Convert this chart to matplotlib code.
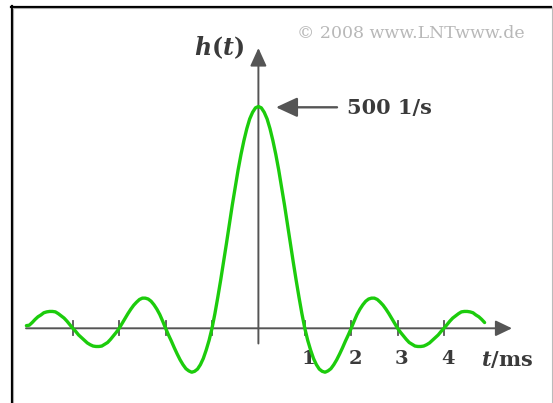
import matplotlib
matplotlib.use("Agg")
import matplotlib.pyplot as plt
from matplotlib.lines import Line2D

plt.rcParams["mathtext.fontset"] = "dejavuserif"

# Data: h(t) in 1/s, t in ms (samples every 1/16 ms, -5 ... 4.875)
t_ms = [i / 16 for i in range(-80, 79)]
h_left = [6, 7, 13, 20, 26, 30, 35, 37, 38, 38, 37, 33, 28, 23, 16, 8,
          0, -7, -15, -21, -27, -33, -37, -40, -41, -41, -40, -36, -32, -25, -17, -9,
          0, 11, 22, 33, 43, 52, 59, 65, 68, 68, 66, 61, 53, 43, 31, 16,
          0, -15, -29, -44, -58, -71, -82, -91, -96, -99, -97, -92, -82, -68, -49, -27,
          0, 33, 70, 109, 150, 192, 235, 278, 318, 357, 392, 423, 450, 472, 487, 497]
h_right = [500, 497, 487, 472, 450, 423, 392, 357, 318, 278, 235, 192, 150, 109, 70, 33,
           0, -27, -49, -68, -82, -92, -97, -99, -96, -91, -82, -71, -58, -44, -29, -15,
           0, 16, 31, 43, 53, 61, 66, 68, 68, 65, 59, 52, 43, 33, 22, 11,
           0, -9, -17, -25, -32, -36, -40, -41, -41, -40, -37, -33, -27, -21, -15, -7,
           0, 8, 16, 23, 28, 33, 37, 38, 38, 37, 35, 30, 26, 20, 13]
h_vals = h_left + h_right
tick_pos = [-4, -3, -2, -1, 1, 2, 3, 4]
tick_labels = ["1", "2", "3", "4"]
tick_label_pos = [1, 2, 3, 4]
peak_value = 500

W, H = 553, 403
fig = plt.figure(figsize=(W / 100, H / 100), dpi=100)
ax = fig.add_axes([0, 0, 1, 1])
# pixel mapping: x_px = x0 + sx*t ; y_px = y0 - sy*h
x0, sx = 258.4, 46.4
y0, sy = 328.3, 0.4436
ax.set_xlim(-x0 / sx, (W - x0) / sx)
ax.set_ylim((y0 - H) / sy, y0 / sy)
ax.axis("off")


def px_t(px):
    return (px - x0) / sx


def px_h(py):
    return (y0 - py) / sy


axis_col = "#555555"
txt_col = "#3a3a3a"
# x axis
ax.annotate("", xy=(px_t(512), 0), xytext=(px_t(26), 0),
            arrowprops=dict(arrowstyle="-|>,head_length=0.5,head_width=0.24",
                            mutation_scale=20, color=axis_col, lw=1.4,
                            shrinkA=0, shrinkB=0))
# y axis
ax.annotate("", xy=(0, px_h(48)), xytext=(0, px_h(343.5)),
            arrowprops=dict(arrowstyle="-|>,head_length=0.55,head_width=0.25",
                            mutation_scale=20, color=axis_col, lw=1.4,
                            shrinkA=0, shrinkB=0))
# ticks
for tp in tick_pos:
    ax.plot([tp, tp], [px_h(335), px_h(321)], color=axis_col, lw=1.3)

# curve
ax.plot(t_ms, h_vals, color="#1ccc0c", lw=2.4, solid_capstyle="round",
        solid_joinstyle="round", zorder=5)

# peak arrow
ya = px_h(107.3)
ax.annotate("", xy=(px_t(276), ya), xytext=(px_t(337), ya),
            arrowprops=dict(arrowstyle="-|>,head_length=0.65,head_width=0.3",
                            mutation_scale=20, color=axis_col, lw=1.7,
                            shrinkA=0, shrinkB=0))

serif = "DejaVu Serif"
ax.text(px_t(347), px_h(108.5), f"{peak_value} 1/s", fontsize=15, fontweight="bold",
        family=serif, color=txt_col, ha="left", va="center")
ax.text(px_t(219), px_h(48), r"$\boldsymbol{h}\mathbf{(}\boldsymbol{t}\mathbf{)}$",
        fontsize=17, color=txt_col, ha="center", va="center")
ax.text(px_t(411), px_h(33), "© 2008 www.LNTwww.de", fontsize=12.5, family=serif,
        color="#b8b8b8", ha="center", va="center")

for tp, lab in zip(tick_label_pos, tick_labels):
    ax.text(tp + 4 / sx, px_h(358.5), lab, fontsize=14, fontweight="bold",
            family=serif, color=txt_col, ha="center", va="center")
ax.text(px_t(507), px_h(359), r"$\boldsymbol{t}\mathbf{/ms}$", fontsize=15,
        color=txt_col, ha="center", va="center")

# frame


def fx(px):
    return px / W


def fy(py):
    return 1 - py / H


fig.add_artist(Line2D([fx(11.5), fx(11.5)], [fy(6), fy(H)], color="black", lw=1.6))
fig.add_artist(Line2D([fx(13.2), fx(13.2)], [fy(8), fy(H)], color="#aaaaaa", lw=0.8))
fig.add_artist(Line2D([fx(11), fx(551)], [fy(6.5), fy(6.5)], color="black", lw=1.6))
fig.add_artist(Line2D([fx(13), fx(551)], [fy(8.3), fy(8.3)], color="#aaaaaa", lw=0.8))
fig.add_artist(Line2D([fx(551.5), fx(551.5)], [fy(7), fy(H)], color="#bbbbbb", lw=0.8))

fig.savefig("out.png", dpi=100, facecolor="white")
